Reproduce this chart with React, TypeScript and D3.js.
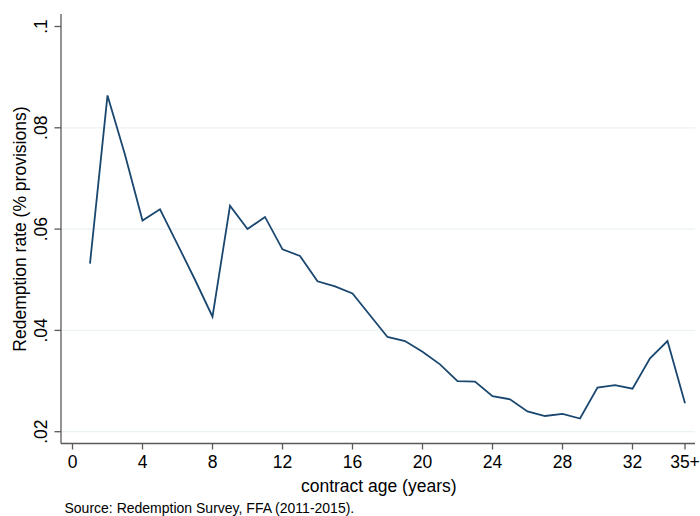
import React from "react";
import * as d3 from "d3";

const ages = [1, 2, 3, 4, 5, 6, 7, 8, 9, 10, 11, 12, 13, 14, 15, 16, 17, 18, 19, 20, 21, 22, 23, 24, 25, 26, 27, 28, 29, 30, 31, 32, 33, 34, 35];
const rates = [
  0.0532, 0.0864, 0.0747, 0.0617, 0.0639, 0.057, 0.05, 0.0427, 0.0646, 0.06,
  0.0624, 0.056, 0.0547, 0.0497, 0.0487, 0.0473, 0.043, 0.0387, 0.0379, 0.0358,
  0.0333, 0.03, 0.0299, 0.027, 0.0264, 0.024, 0.0231, 0.0235, 0.0226, 0.0287,
  0.0292, 0.0285, 0.0345, 0.0379, 0.0256,
];
const xTicks = [0, 4, 8, 12, 16, 20, 24, 28, 32, 35];
const xTickLabels = ["0", "4", "8", "12", "16", "20", "24", "28", "32", "35+"];
const yTicks = [0.02, 0.04, 0.06, 0.08, 0.1];
const yTickLabels = [".02", ".04", ".06", ".08", ".1"];
const gridValues = [0.02, 0.04, 0.06, 0.08];

const xTitle = "contract age (years)";
const yTitle = "Redemption rate (% provisions)";
const source = "Source: Redemption Survey, FFA (2011-2015).";

export default function App() {
  const W = 700;
  const H = 516;
  const axisX = 61;
  const axisY = 443.5;
  const right = 695;
  const top = 14;
  const x = d3.scaleLinear().domain([0, 35]).range([72.5, 685]);
  const y = d3.scaleLinear().domain([0.02, 0.1]).range([431.7, 26.5]);
  const data = ages.map((a, i) => [a, rates[i]] as [number, number]);
  const line = d3
    .line<[number, number]>()
    .x((d) => x(d[0]))
    .y((d) => y(d[1]));
  const font = "'Liberation Sans', Arial, Helvetica, sans-serif";
  const axisColor = "#595959";
  return (
    <svg
      width={W}
      height={H}
      style={{ position: "absolute", left: 0, top: 0, background: "#fff" }}
      fontFamily={font}
    >
      <rect x={0} y={0} width={W} height={H} fill="#fff" />
      {gridValues.map((v) => (
        <line key={v} x1={axisX} x2={right} y1={y(v)} y2={y(v)} stroke="#eaf2f3" strokeWidth={1.3} />
      ))}
      <path d={line(data) || ""} fill="none" stroke="#1a476f" strokeWidth={1.8} strokeLinejoin="miter" />
      {/* Y axis */}
      <line x1={axisX} x2={axisX} y1={top} y2={axisY} stroke={axisColor} strokeWidth={1.3} />
      {yTicks.map((v, i) => (
        <g key={v}>
          <line x1={axisX - 6.5} x2={axisX} y1={y(v)} y2={y(v)} stroke={axisColor} strokeWidth={1.3} />
          <text
            transform={`translate(47,${y(v)}) rotate(-90)`}
            textAnchor="middle"
            fontSize={17.5}
            fill="#000"
          >
            {yTickLabels[i]}
          </text>
        </g>
      ))}
      {/* X axis */}
      <line x1={axisX} x2={right} y1={axisY} y2={axisY} stroke={axisColor} strokeWidth={1.3} />
      {xTicks.map((v, i) => (
        <g key={v}>
          <line x1={x(v)} x2={x(v)} y1={axisY} y2={axisY + 6} stroke={axisColor} strokeWidth={1.3} />
          <text x={x(v)} y={468.3} textAnchor="middle" fontSize={17.5} fill="#000">
            {xTickLabels[i]}
          </text>
        </g>
      ))}
      <text x={(72.5 + 685) / 2} y={491.5} textAnchor="middle" fontSize={17.5} fill="#000">
        {xTitle}
      </text>
      <text
        transform={`translate(26,${(26.5 + 431.7) / 2}) rotate(-90)`}
        textAnchor="middle"
        fontSize={17.5}
        fill="#000"
      >
        {yTitle}
      </text>
      <text x={64.5} y={513} fontSize={14} fill="#000">
        {source}
      </text>
    </svg>
  );
}
